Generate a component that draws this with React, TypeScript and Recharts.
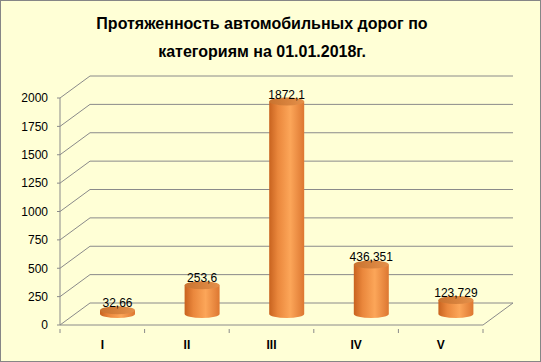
import {
  BarChart,
  Bar,
  XAxis,
  YAxis,
  CartesianGrid,
  LabelList,
} from 'recharts';

const categories = ['I', 'II', 'III', 'IV', 'V'];
const lengths = [32.66, 253.6, 1872.1, 436.351, 123.729];
const yTicks = [0, 250, 500, 750, 1000, 1250, 1500, 1750, 2000];

const title1 = 'Протяженность автомобильных дорог по';
const title2 = 'категориям на 01.01.2018г.';

const data = categories.map((c, i) => ({ name: c, value: lengths[i] }));

// 3D depth offset of the back wall, bars sit half way in
const DX = 30;
const DY = -22;
const GRID = '#8a8a8a';
const FONT = '"Liberation Sans", Arial, sans-serif';

function GridLine(props: any) {
  const { x1, x2, y1, y, height } = props;
  const isFloor = Math.abs(y1 - (y + height)) < 1;
  return (
    <g>
      <line x1={x1} y1={y1} x2={x1 + DX} y2={y1 + DY} stroke={GRID} />
      <line x1={x1 + DX} y1={y1 + DY} x2={x2 + DX} y2={y1 + DY} stroke={GRID} />
      {isFloor && <line x1={x2} y1={y1} x2={x2 + DX} y2={y1 + DY} stroke={GRID} />}
    </g>
  );
}

function Cylinder(props: any) {
  const { x, y, width, height } = props;
  const bx = x + DX / 2;
  const by = y + DY / 2;
  const cx = bx + width / 2;
  const rx = width / 2;
  const ry = 4;
  return (
    <g>
      <path
        d={`M${bx},${by} L${bx},${by + height} A${rx},${ry} 0 0 0 ${bx + width},${by + height} L${bx + width},${by} Z`}
        fill="url(#cylBody)"
      />
      <ellipse cx={cx} cy={by} rx={rx} ry={ry} fill="url(#cylTop)" />
    </g>
  );
}

function ValueLabel(props: any) {
  const { x, y, width, value } = props;
  return (
    <text
      x={x + DX / 2 + width / 2}
      y={y + DY / 2 - 3}
      textAnchor="middle"
      fontSize={12}
      fontFamily={FONT}
      fill="#000"
    >
      {String(value).replace('.', ',')}
    </text>
  );
}

function CategoryTick(props: any) {
  const { x, y, payload, index } = props;
  const half = payload?.offset ?? 42.3;
  return (
    <g>
      <line x1={x - half} y1={y - 4} x2={x - half} y2={y} stroke={GRID} />
      {index === categories.length - 1 && (
        <line x1={x + half} y1={y - 4} x2={x + half} y2={y} stroke={GRID} />
      )}
      <text
        x={x}
        y={y + 16}
        textAnchor="middle"
        fontSize={12}
        fontWeight="bold"
        fontFamily={FONT}
        fill="#000"
      >
        {payload.value}
      </text>
    </g>
  );
}

export default function App() {
  return (
    <div
      style={{
        position: 'fixed',
        left: 0,
        top: 0,
        width: 541,
        height: 362,
        boxSizing: 'border-box',
        border: '1px solid #868686',
        background: '#ffffd6',
        fontFamily: FONT,
      }}
    >
      <div
        style={{
          position: 'absolute',
          left: 0,
          top: 9,
          width: 522,
          textAlign: 'center',
          fontWeight: 'bold',
          fontSize: 16,
          lineHeight: '28px',
          color: '#000',
        }}
      >
        <div>{title1}</div>
        <div>{title2}</div>
      </div>
      <div style={{ position: 'absolute', left: -1, top: -1 }}>
        <BarChart
          width={541}
          height={362}
          data={data}
          margin={{ top: 98, right: 58, left: 0, bottom: 7 }}
          barCategoryGap={0}
        >
          <defs>
            <linearGradient id="cylBody" x1="0" y1="0" x2="1" y2="0">
              <stop offset="0%" stopColor="#c8631f" />
              <stop offset="25%" stopColor="#ea873c" />
              <stop offset="60%" stopColor="#fca659" />
              <stop offset="100%" stopColor="#dd7731" />
            </linearGradient>
            <linearGradient id="cylTop" x1="0" y1="0" x2="1" y2="0">
              <stop offset="0%" stopColor="#c9732f" />
              <stop offset="100%" stopColor="#e4904a" />
            </linearGradient>
          </defs>
          <CartesianGrid vertical={false} horizontal={(p: any) => <GridLine {...p} />} />
          <XAxis
            dataKey="name"
            height={30}
            axisLine={{ stroke: GRID }}
            tickLine={false}
            tick={<CategoryTick />}
            interval={0}
          />
          <YAxis
            width={60}
            domain={[0, 2000]}
            ticks={yTicks}
            interval={0}
            axisLine={{ stroke: GRID }}
            tickLine={{ stroke: GRID }}
            tickSize={3}
            tickMargin={9}
            tick={{ fontSize: 12, fill: '#000', fontFamily: FONT }}
          />
          <Bar
            dataKey="value"
            barSize={35}
            shape={<Cylinder />}
            isAnimationActive={false}
          >
            <LabelList dataKey="value" content={<ValueLabel />} />
          </Bar>
        </BarChart>
      </div>
    </div>
  );
}
